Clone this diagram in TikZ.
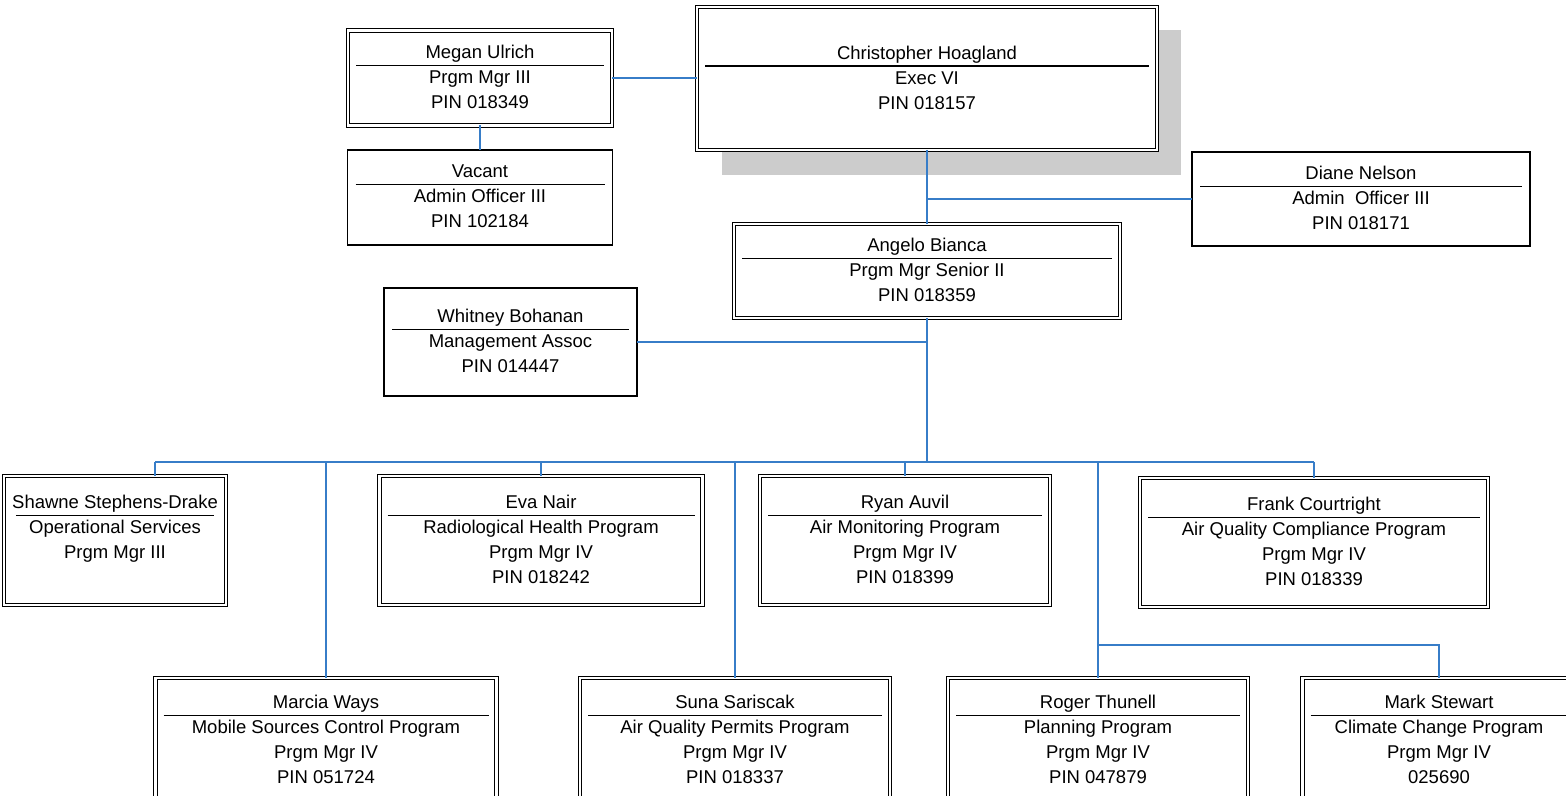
\documentclass[tikz,border=0pt]{standalone}
\usepackage{fontspec}
\setmainfont{Liberation Sans}
\definecolor{linkblue}{RGB}{55,125,200}
\newcommand{\card}[3]{#1\\[-8.75pt]\rule{#2}{0.6pt}\\[-3.75pt]#3\rule[-1pt]{0pt}{0pt}}

\begin{document}
\begin{tikzpicture}[x=0.5pt,y=-0.5pt,
	box/.style={draw, line width=0.7pt, fill=white, align=center, inner xsep=4pt, outer sep=0pt,
		font=\fontsize{9.25}{12.5}\selectfont},
	dbox/.style={box, double, line width=0.6pt, double distance=1.1pt},
	link/.style={linkblue, line width=0.8pt}]
		\useasboundingbox (0,0) rectangle (1566,796);
		\fill[white] (0,0) rectangle (1566,796);

		% shadow behind the top box
		\fill[gray!40] (722,30) rectangle (1181,175);

		\node[dbox, minimum height=71.5pt] (chris) at (927,78.5) {\card{Christopher Hoagland}{222pt}{Exec VI\\PIN 018157}};
		\node[dbox, minimum height=47.5pt] (megan) at (480,78) {\card{Megan Ulrich}{124pt}{Prgm Mgr III\\PIN 018349}};
		\node[box, minimum height=47.5pt] (vacant) at (480,197.5) {\card{Vacant}{124.5pt}{Admin Officer III\\PIN 102184}};
		\node[box, minimum height=47pt] (diane) at (1361,199) {\card{Diane Nelson}{161pt}{Admin\ \ Officer III\\PIN 018171}};
		\node[dbox, minimum height=47pt] (angelo) at (927,271) {\card{Angelo Bianca}{185pt}{Prgm Mgr Senior II\\PIN 018359}};
		\node[box, minimum height=54pt] (whitney) at (510.5,342) {\card{Whitney Bohanan}{118.5pt}{Management Assoc\\PIN 014447}};

		\node[dbox, minimum height=64.5pt] (shawne) at (115,540.5) {\card{Shawne Stephens-Drake}{99pt}{Operational Services\\Prgm Mgr III\\\mbox{}}};
		\node[dbox, minimum height=64.5pt] (eva) at (541,540.5) {\card{Eva Nair}{153.5pt}{Radiological Health Program\\Prgm Mgr IV\\PIN 018242}};
		\node[dbox, minimum height=64.5pt] (ryan) at (905,540.5) {\card{Ryan Auvil}{137pt}{Air Monitoring Program\\Prgm Mgr IV\\PIN 018399}};
		\node[dbox, minimum height=64.5pt] (frank) at (1314,542.5) {\card{Frank Courtright}{166pt}{Air Quality Compliance Program\\Prgm Mgr IV\\PIN 018339}};

		\node[dbox, minimum height=62pt] (marcia) at (326,740) {\card{Marcia Ways}{162.5pt}{Mobile Sources Control Program\\Prgm Mgr IV\\PIN 051724}};
		\node[dbox, minimum height=62pt] (suna) at (735,740) {\card{Suna Sariscak}{147pt}{Air Quality Permits Program\\Prgm Mgr IV\\PIN 018337}};
		\node[dbox, minimum height=62pt] (roger) at (1098,740) {\card{Roger Thunell}{142pt}{Planning Program\\Prgm Mgr IV\\PIN 047879}};
		\node[dbox, minimum height=62pt] (mark) at (1439,740) {\card{Mark Stewart}{128.5pt}{Climate Change Program\\Prgm Mgr IV\\025690}};

		\coordinate (busL) at (155,462);
		\coordinate (busR) at (1314,462);
		\coordinate (split) at (1098,645);

		\draw[link] (megan.east) -- (megan.east -| chris.west);
		\draw[link] (megan.south) -- (vacant.north);
		\draw[link] (chris.south) -- (angelo.north);
		\draw[link] (diane.west) -- (diane.west -| chris.south);
		\draw[link] (whitney.east) -- (whitney.east -| angelo.south);
		\draw[link] (angelo.south) -- (angelo.south |- busL);
		\draw[link] (busL) -- (busR);
		\draw[link] (busL) -- (busL |- shawne.north);
		\foreach \n in {eva,ryan,frank,marcia,suna,roger}
			\draw[link] (\n.north |- busL) -- (\n.north);
		\draw[link] (roger.north |- split) -| (mark.north);
	\end{tikzpicture}
\end{document}
